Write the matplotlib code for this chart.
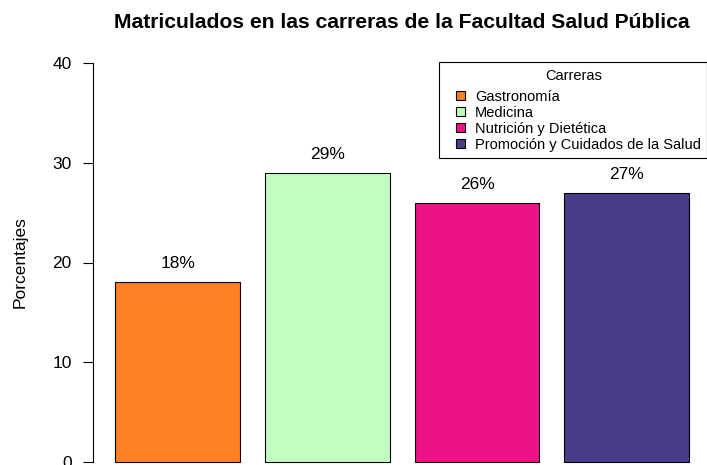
import matplotlib
matplotlib.use("Agg")
import matplotlib.pyplot as plt
from matplotlib.patches import Patch, Rectangle
from matplotlib.legend_handler import HandlerPatch

plt.rcParams['font.family'] = ['Liberation Sans', 'DejaVu Sans']

# Data
carreras = ['Gastronomía', 'Medicina', 'Nutrición y Dietética',
            'Promoción y Cuidados de la Salud']
porcentajes = [18, 29, 26, 27]
colores = ['#FF7F24', '#C1FFC1', '#EE1289', '#483D8B']

W, H = 707, 465
fig = plt.figure(figsize=(W / 100, H / 100), dpi=100)

# plot region in pixels (R style: region extends 4% beyond data)
left_px, right_px = 92.5, 712
top_px, bot_px = 47, 478
ax = fig.add_axes([left_px / W, (H - bot_px) / H,
                   (right_px - left_px) / W, (bot_px - top_px) / H])

# R barplot positions: width 1, space 0.2
x = [0.7 + 1.2 * i for i in range(len(porcentajes))]
ax.bar(x, porcentajes, width=1.0, color=colores, edgecolor='black', linewidth=0.8)
ax.set_xlim(0.016, 4.984)
ax.set_ylim(-1.6, 41.6)

for xi, v in zip(x, porcentajes):
    ax.text(xi, v + 1.1, f'{v}%', ha='center', va='bottom', fontsize=12.5)

for s in ['top', 'right', 'bottom']:
    ax.spines[s].set_visible(False)
ax.spines['left'].set_bounds(0, 40)
ax.set_yticks([0, 10, 20, 30, 40])
ax.set_xticks([])
ax.tick_params(axis='y', labelsize=12.5, length=7, pad=8)
ax.set_ylabel('Porcentajes', fontsize=12.5, labelpad=18)

fig.text((left_px + right_px) / 2 / W, 1 - 22 / H,
         'Matriculados en las carreras de la Facultad Salud Pública',
         ha='center', va='center', fontsize=15.2, fontweight='bold')


# small square legend key, pushed to the right of the handle area (like R)
def square_key(legend, orig_handle, xdescent, ydescent, width, height, fontsize):
    side = 0.62 * fontsize
    return Rectangle((width - side - xdescent, -ydescent + (height - side) / 2),
                     side, side)


handles = [Patch(facecolor=c, edgecolor='black', linewidth=0.8) for c in colores]
leg = ax.legend(handles, carreras, title='Carreras', loc='upper left',
                bbox_to_anchor=(439 / W, 1 - 62 / H), bbox_transform=fig.transFigure,
                fontsize=10.5, title_fontsize=10.5, fancybox=False, framealpha=1,
                edgecolor='black', handlelength=1.33, handleheight=0.75,
                handletextpad=0.68, labelspacing=0.14, borderpad=0.45,
                borderaxespad=0,
                handler_map={Patch: HandlerPatch(patch_func=square_key)})
leg.get_frame().set_linewidth(0.8)
leg._legend_box.sep = 5.0

fig.savefig('out.png', dpi=100)
